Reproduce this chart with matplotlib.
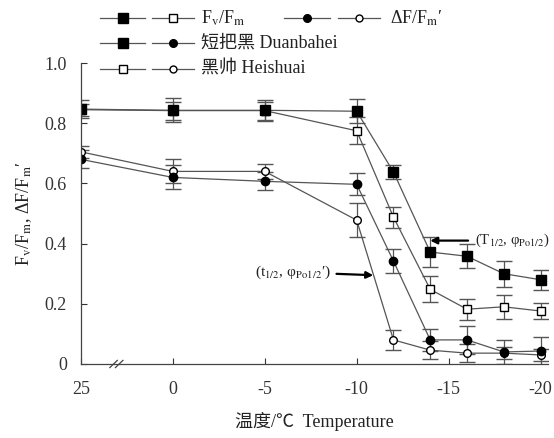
import numpy as np
import matplotlib
matplotlib.use("Agg")
import matplotlib.pyplot as plt

plt.rcParams['font.family'] = ['Liberation Serif', 'Noto Sans CJK SC']
plt.rcParams['mathtext.fontset'] = 'stix'

# temperatures (deg C); 25 is the control, drawn left of an axis break
temps = [25, 0, -5, -10, -12, -14, -16, -18, -20]
tick_temps = [25, 0, -5, -10, -15, -20]

# Fv/Fm
fvfm_duan = [0.847, 0.843, 0.843, 0.840, 0.638, 0.372, 0.358, 0.300, 0.280]
fvfm_duan_err = [0.03, 0.04, 0.035, 0.04, 0.023, 0.05, 0.04, 0.043, 0.033]
fvfm_hei = [0.845, 0.842, 0.842, 0.775, 0.488, 0.248, 0.182, 0.190, 0.176]
fvfm_hei_err = [0.02, 0.03, 0.03, 0.045, 0.035, 0.043, 0.035, 0.04, 0.027]

# delta F / Fm'
dfm_duan = [0.680, 0.620, 0.607, 0.597, 0.342, 0.080, 0.080, 0.040, 0.043]
dfm_duan_err = [0.03, 0.04, 0.03, 0.037, 0.04, 0.037, 0.047, 0.04, 0.045]
dfm_hei = [0.705, 0.640, 0.640, 0.478, 0.080, 0.046, 0.036, 0.036, 0.030]
dfm_hei_err = [0.02, 0.04, 0.025, 0.057, 0.033, 0.03, 0.03, 0.02, 0.02]


def to_pos(t):
    # 25 sits one step left of 0 (broken axis), the rest is -T
    return -5 if t == 25 else -t


x = np.array([to_pos(t) for t in temps], dtype=float)

fig = plt.figure(figsize=(5.54, 4.38), dpi=100)
ax = fig.add_axes([0.146, 0.169, 0.843, 0.687])

line_kw = dict(color='#555555', lw=0.9, ecolor='#555555', elinewidth=0.9,
               capsize=5.5, capthick=0.9)

series = [
    (dfm_hei, dfm_hei_err, 'o', 'white', 5.5),
    (dfm_duan, dfm_duan_err, 'o', 'black', 6),
    (fvfm_hei, fvfm_hei_err, 's', 'white', 6),
    (fvfm_duan, fvfm_duan_err, 's', 'black', 6.5),
]
for vals, errs, mk, fc, ms in series:
    ax.errorbar(x, vals, yerr=errs, marker=mk, mfc=fc, mec='black', mew=1.0,
                ms=ms, **line_kw)

ax.set_xlim(-5, 20.4)
ax.set_ylim(0, 1.0)
ax.set_xticks([to_pos(t) for t in tick_temps])
ax.set_xticklabels([str(t) for t in tick_temps])
ax.set_yticks([0, 0.2, 0.4, 0.6, 0.8, 1.0])
ax.set_yticklabels(['0', '0.2', '0.4', '0.6', '0.8', '1.0'])
ax.tick_params(direction='in', length=4, width=0.8, labelsize=13, colors='#333333')
ax.tick_params(axis='x', pad=12)
ax.tick_params(axis='y', pad=10)

for s in ['top', 'right']:
    ax.spines[s].set_visible(False)
for s in ['left', 'bottom']:
    ax.spines[s].set_color('#444444')
    ax.spines[s].set_linewidth(0.9)

# axis break marks
for dx in (0.0, 0.012):
    ax.plot([0.062 + dx, 0.078 + dx], [-0.012, 0.012], transform=ax.transAxes,
            color='#444444', lw=0.9, clip_on=False)

ax.set_xlabel('温度/℃  Temperature', fontsize=13, labelpad=10, color='#222222')
ax.set_ylabel(r'F$_\mathrm{v}$/F$_\mathrm{m}$, ΔF/F$_\mathrm{m}$′',
              fontsize=13, labelpad=8, color='#222222')

# annotations
ax.annotate(r'(T$_{1/2}$, φ$_{\mathrm{Po1/2}}$)', xy=(14.0, 0.41), xytext=(20.5, 0.41),
            fontsize=10.5, va='center', ha='right', color='#222222',
            arrowprops=dict(arrowstyle='-|>', color='black', lw=1.6,
                            mutation_scale=10, shrinkA=3, shrinkB=0))
ax.annotate(r'(t$_{1/2}$, φ$_{\mathrm{Po1/2}}$′)', xy=(10.9, 0.295),
            xytext=(8.6, 0.305), fontsize=11, va='center', ha='right', color='#222222',
            arrowprops=dict(arrowstyle='-|>', color='black', lw=1.6,
                            mutation_scale=10, shrinkA=2, shrinkB=0))

# hand-built legend above the axes (figure-pixel layout)
W, H = 554.0, 438.0


def sample(x0, x1, y, mk, fc, ms):
    fx = np.array([x0, x1]) / W
    fy = 1 - np.array([y, y]) / H
    fig.add_artist(plt.Line2D(fx, fy, color='#555555', lw=0.9))
    fig.add_artist(plt.Line2D([fx.mean()], [fy[0]], marker=mk, mfc=fc, mec='black',
                              mew=1.0, ms=ms, color='#555555'))


sample(100, 145, 18, 's', 'black', 6.5)
sample(152, 194, 18, 's', 'white', 5.5)
fig.text(201 / W, 1 - 18 / H, r'F$_\mathrm{v}$/F$_\mathrm{m}$', fontsize=13,
         va='center', color='#222222')
sample(284, 330, 18, 'o', 'black', 5.5)
sample(338, 380, 18, 'o', 'white', 5)
fig.text(390 / W, 1 - 18 / H, r'ΔF/F$_\mathrm{m}$′', fontsize=13,
         va='center', color='#222222')

sample(100, 145, 43, 's', 'black', 6.5)
sample(152, 194, 43, 'o', 'black', 5.5)
fig.text(201 / W, 1 - 43 / H, '短把黑 Duanbahei', fontsize=13, va='center',
         color='#222222')

sample(100, 145, 69, 's', 'white', 5.5)
sample(152, 194, 69, 'o', 'white', 5)
fig.text(201 / W, 1 - 69 / H, '黑帅 Heishuai', fontsize=13, va='center',
         color='#222222')

fig.savefig('out.png', dpi=100, facecolor='white')
